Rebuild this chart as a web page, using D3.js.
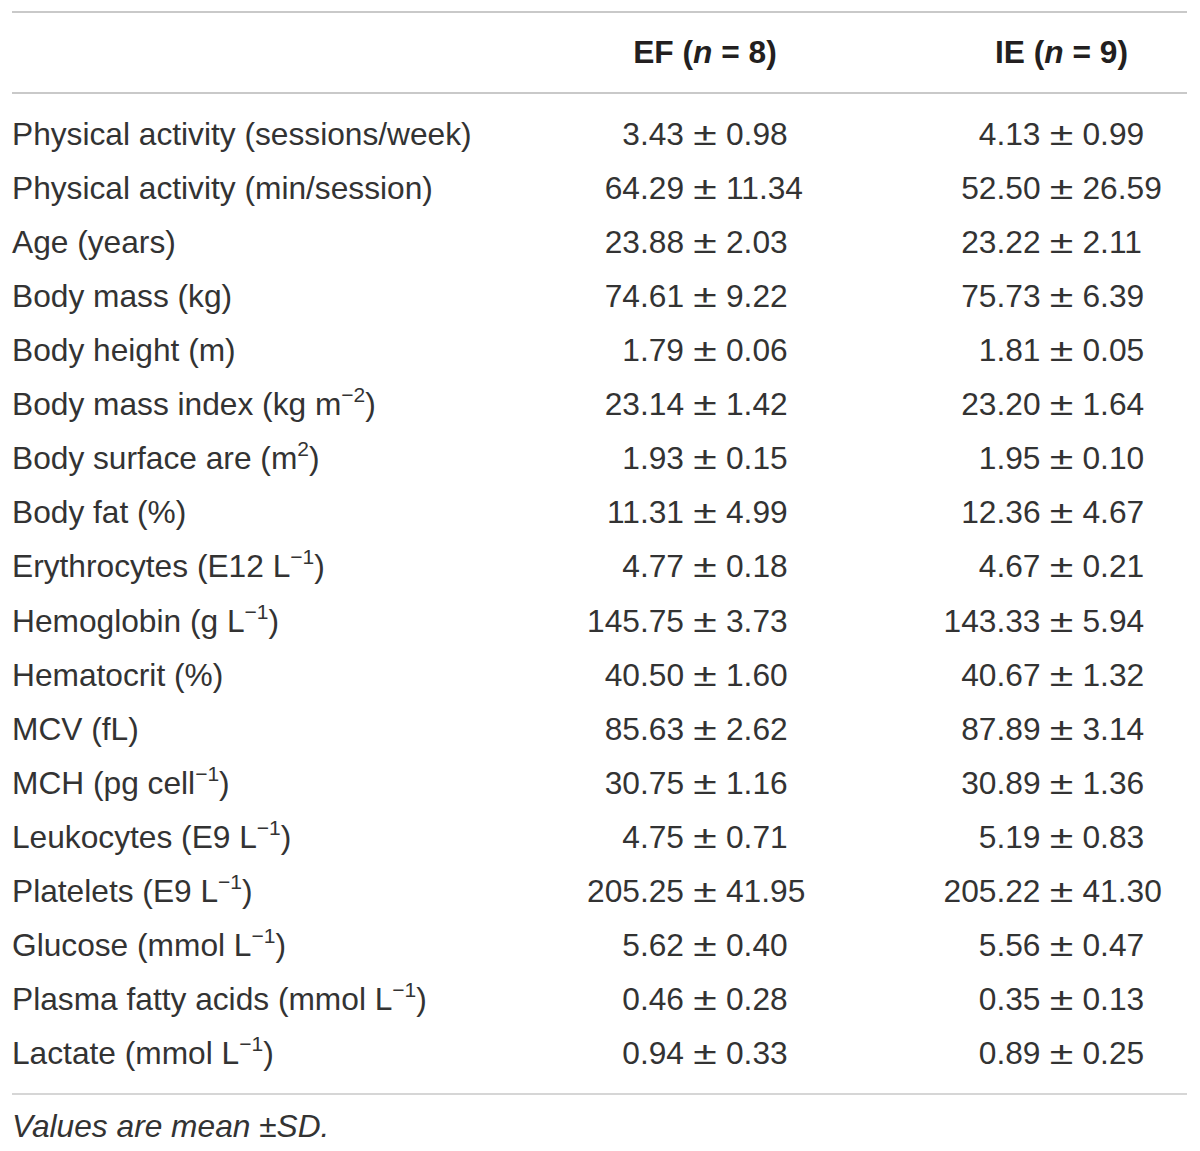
<!DOCTYPE html>
<html>
<head>
<meta charset="utf-8">
<script src="https://cdn.jsdelivr.net/npm/d3@7"></script>
<style>
  body { margin: 0; background: #fff; }
  svg text { font-family: "Liberation Sans", Arial, sans-serif; fill: #333; }
</style>
</head>
<body>
<svg id="chart" width="1200" height="1151"></svg>
<script>
// row labels, ^{..} marks a superscript
var rowLabels = [
  "Physical activity (sessions/week)",
  "Physical activity (min/session)",
  "Age (years)",
  "Body mass (kg)",
  "Body height (m)",
  "Body mass index (kg m^{−2})",
  "Body surface are (m^{2})",
  "Body fat (%)",
  "Erythrocytes (E12 L^{−1})",
  "Hemoglobin (g L^{−1})",
  "Hematocrit (%)",
  "MCV (fL)",
  "MCH (pg cell^{−1})",
  "Leukocytes (E9 L^{−1})",
  "Platelets (E9 L^{−1})",
  "Glucose (mmol L^{−1})",
  "Plasma fatty acids (mmol L^{−1})",
  "Lactate (mmol L^{−1})"
];

var efMean = [3.43, 64.29, 23.88, 74.61, 1.79, 23.14, 1.93, 11.31, 4.77, 145.75, 40.50, 85.63, 30.75, 4.75, 205.25, 5.62, 0.46, 0.94];
var efSD   = [0.98, 11.34, 2.03, 9.22, 0.06, 1.42, 0.15, 4.99, 0.18, 3.73, 1.60, 2.62, 1.16, 0.71, 41.95, 0.40, 0.28, 0.33];
var ieMean = [4.13, 52.50, 23.22, 75.73, 1.81, 23.20, 1.95, 12.36, 4.67, 143.33, 40.67, 87.89, 30.89, 5.19, 205.22, 5.56, 0.35, 0.89];
var ieSD   = [0.99, 26.59, 2.11, 6.39, 0.05, 1.64, 0.10, 4.67, 0.21, 5.94, 1.32, 3.14, 1.36, 0.83, 41.30, 0.47, 0.13, 0.25];

var groups = [
  {name: "EF", n: 8, mean: efMean, sd: efSD},
  {name: "IE", n: 9, mean: ieMean, sd: ieSD}
];

var footnote = "Values are mean ±SD.";

var FONT_SIZE = 31.7;
var PM_GAP = 21;   // distance from the ± centre to mean / sd
var svg = d3.select("#chart");
var fmt = d3.format(".2f");

var x = d3.scalePoint().domain(groups.map(function(g){return g.name;})).range([705, 1061.5]);
var y = d3.scalePoint().domain(d3.range(rowLabels.length)).range([145, 1064]);

// rules
function _rule(yy, w){
  svg.append("line")
    .attr("x1", 12).attr("x2", 1187)
    .attr("y1", yy).attr("y2", yy)
    .style("stroke", "#c9c9c9")
    .style("stroke-width", w);
}
_rule(12, 2);
_rule(93, 2);
_rule(1094, 1.5);

// header
groups.forEach(function(g){
  var t = svg.append("text")
    .attr("x", x(g.name)).attr("y", 63)
    .attr("text-anchor", "middle")
    .style("font-size", FONT_SIZE + "px")
    .style("font-weight", "bold")
    .style("fill", "#231f20");
  t.append("tspan").text(g.name + " (");
  t.append("tspan").style("font-style", "italic").text("n");
  t.append("tspan").text(" = " + g.n + ")");
});

// row labels with superscripts
rowLabels.forEach(function(lbl, i){
  var t = svg.append("text")
    .attr("x", 12).attr("y", y(i))
    .style("font-size", FONT_SIZE + "px");
  var parts = lbl.split(/\^\{|\}/);
  parts.forEach(function(p, j){
    if (!p) return;
    if (j % 2 == 1) {
      t.append("tspan").attr("dy", -13).style("font-size", "21px").text(p);
    } else {
      t.append("tspan").attr("dy", j > 0 ? 13 : 0).text(p);
    }
  });
});

// values: aligned on the ± sign
groups.forEach(function(g){
  var cells = svg.selectAll(null)
    .data(g.mean)
    .enter()
    .append("g")
      .attr("transform", function(d, i){return "translate(" + x(g.name) + "," + y(i) + ")";});

  cells.append("text")
    .attr("x", -PM_GAP)
    .attr("text-anchor", "end")
    .style("font-size", FONT_SIZE + "px")
    .text(function(d){return fmt(d);});

  cells.append("text")
    .attr("text-anchor", "middle")
    .attr("transform", "scale(1.35,1)")
    .style("font-size", FONT_SIZE + "px")
    .text("±");

  cells.append("text")
    .attr("x", PM_GAP)
    .attr("text-anchor", "start")
    .style("font-size", FONT_SIZE + "px")
    .text(function(d, i){return fmt(g.sd[i]);});
});

svg.append("text")
  .attr("x", 12).attr("y", 1137)
  .style("font-size", FONT_SIZE + "px")
  .style("font-style", "italic")
  .text(footnote);
</script>
</body>
</html>
